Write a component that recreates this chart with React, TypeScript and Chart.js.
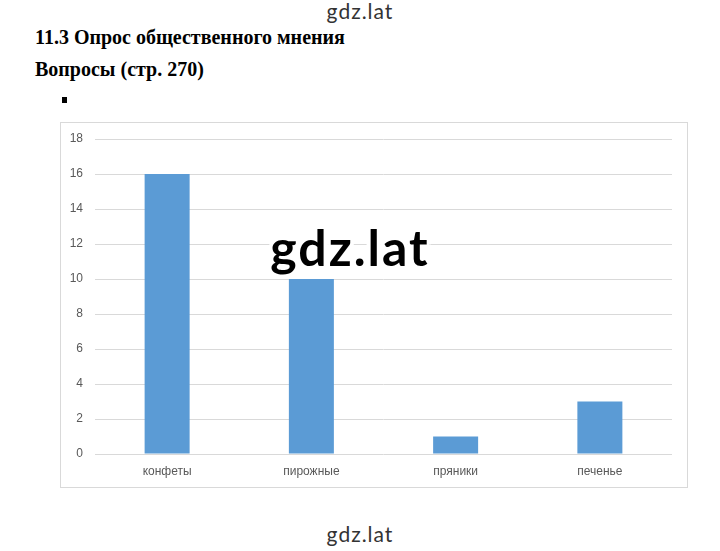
import React, { useEffect, useRef } from "react";
import { Chart, registerables } from "chart.js";

Chart.register(...registerables);

const categories = ["конфеты", "пирожные", "пряники", "печенье"];
const values = [16, 10, 1, 3];
const yMin = 0;
const yMax = 18;
const yStep = 2;

const heading1 = "11.3 Опрос общественного мнения";
const heading2 = "Вопросы (стр. 270)";
const watermark = "gdz.lat";

export default function App() {
  const ref = useRef<HTMLCanvasElement | null>(null);

  useEffect(() => {
    if (!ref.current) return;
    const chart = new Chart(ref.current, {
      type: "bar",
      data: {
        labels: categories,
        datasets: [
          {
            data: values,
            backgroundColor: "#5b9bd5",
            borderWidth: 0,
            barPercentage: 0.312,
            categoryPercentage: 1,
          },
        ],
      },
      options: {
        animation: false,
        responsive: false,
        maintainAspectRatio: false,
        layout: { padding: { left: 0, right: 15, top: 16, bottom: 0 } },
        plugins: {
          legend: { display: false },
          tooltip: { enabled: false },
          title: { display: false },
        },
        scales: {
          x: {
            grid: { display: false, drawTicks: false },
            border: { display: false },
            ticks: {
              color: "#595959",
              padding: 10,
              font: { family: "'Liberation Sans', Arial, sans-serif", size: 12 },
            },
            afterFit: (s: any) => {
              s.height = 33;
              s.paddingLeft = 0;
              s.paddingRight = 0;
            },
          },
          y: {
            min: yMin,
            max: yMax,
            grid: { color: "#d9d9d9", lineWidth: 1, drawTicks: false },
            border: { display: false },
            ticks: {
              stepSize: yStep,
              color: "#595959",
              padding: 12,
              font: { family: "'Liberation Sans', Arial, sans-serif", size: 12 },
            },
            afterFit: (s: any) => {
              s.width = 34;
              s.paddingTop = 0;
              s.paddingBottom = 0;
            },
          },
        },
      },
    });
    return () => chart.destroy();
  }, []);

  const wm: React.CSSProperties = {
    position: "absolute",
    left: 0,
    width: 720,
    textAlign: "center",
    fontFamily: "Lato, 'DejaVu Sans', sans-serif",
    color: "#333",
    whiteSpace: "nowrap",
  };

  const head: React.CSSProperties = {
    position: "absolute",
    left: 35,
    fontFamily: "'Liberation Serif', 'Times New Roman', serif",
    fontWeight: "bold",
    fontSize: 20,
    lineHeight: "20px",
    color: "#000",
    whiteSpace: "nowrap",
  };

  return (
    <div
      style={{
        position: "absolute",
        left: 0,
        top: 0,
        width: 720,
        height: 551,
        background: "#fff",
        overflow: "hidden",
      }}
    >
      <div style={{ ...wm, top: 0, fontSize: 21, lineHeight: "21px", letterSpacing: 1 }}>
        {watermark}
      </div>
      <div style={{ ...head, top: 27 }}>{heading1}</div>
      <div style={{ ...head, top: 59 }}>{heading2}</div>
      <div
        style={{
          position: "absolute",
          left: 62,
          top: 97,
          width: 5,
          height: 6,
          background: "#000",
        }}
      />
      <div
        style={{
          position: "absolute",
          left: 60,
          top: 122,
          width: 626,
          height: 364,
          border: "1px solid #d9d9d9",
        }}
      >
        <canvas ref={ref} width={626} height={364} style={{ display: "block", width: 626, height: 364 }} />
      </div>
      <div
        style={{
          ...wm,
          left: -10,
          top: 222,
          fontSize: 50,
          lineHeight: "50px",
          fontWeight: "bold",
          color: "#000",
          letterSpacing: 2,
          textShadow:
            "2px 0 0 #fff, -2px 0 0 #fff, 0 2px 0 #fff, 0 -2px 0 #fff, 2px 2px 0 #fff, -2px -2px 0 #fff, 2px -2px 0 #fff, -2px 2px 0 #fff, 4px 0 0 #fff, -4px 0 0 #fff, 0 4px 0 #fff, 0 -4px 0 #fff",
        }}
      >
        {watermark}
      </div>
      <div style={{ ...wm, top: 523, fontSize: 21, lineHeight: "21px", letterSpacing: 1 }}>
        {watermark}
      </div>
    </div>
  );
}
